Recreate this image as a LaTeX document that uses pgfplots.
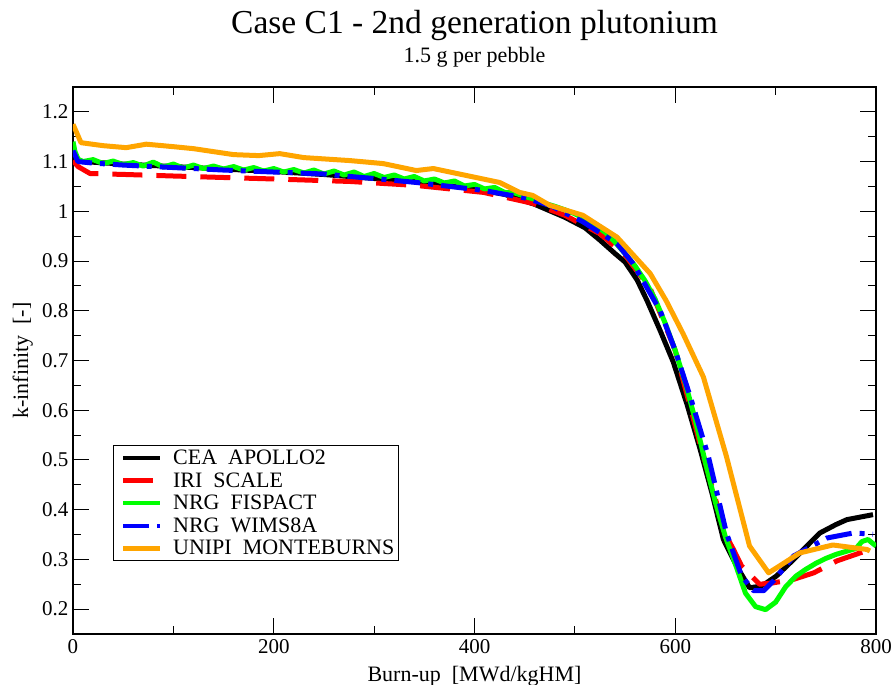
\documentclass[border=0pt]{standalone}
\usepackage{pgfplots}
\pgfplotsset{compat=1.18}
\usepackage{fontspec}
\setmainfont{Liberation Serif}
\definecolor{ggreen}{RGB}{0,255,0}
\definecolor{gorange}{RGB}{255,165,0}
\definecolor{gred}{RGB}{255,0,0}
\definecolor{gblue}{RGB}{0,0,255}
\begin{document}
\begin{tikzpicture}
\begin{axis}[
  scale only axis, width=803pt, height=547pt,
  xmin=0, xmax=800, ymin=0.15, ymax=1.25,
  xtick={0,200,400,600,800}, minor x tick num=1,
  ytick={0.2,0.3,0.4,0.5,0.6,0.7,0.8,0.9,1,1.1,1.2},
  yticklabels={0.2,0.3,0.4,0.5,0.6,0.7,0.8,0.9,1,1.1,1.2},
  minor y tick num=1,
  tick align=inside, major tick length=16pt, minor tick length=8pt,
  tick style={black, line width=1pt},
  axis line style={line width=1.2pt},
  ticklabel style={font=\fontsize{21}{21}\selectfont},
  /pgf/number format/assume math mode=true,
  xticklabel style={yshift=-2pt},
  yticklabel style={xshift=-1pt},
  xlabel={Burn-up\ \ [MWd/kgHM]},
  ylabel={k-infinity\ \ [-]},
  label style={font=\fontsize{22}{22}\selectfont},
  xlabel style={at={(axis description cs:0.5,0)}, anchor=base, yshift=-47pt},
  ylabel style={at={(axis description cs:-0.056,0.5)}, anchor=base, rotate=0},
  every axis plot/.append style={line width=5pt, line join=round},
  legend style={at={(axis cs:40,0.296)}, anchor=south west, draw=black, line width=1pt,
    font=\fontsize{22}{22}\selectfont, inner xsep=3pt, inner ysep=3pt, row sep=3.5pt,
    nodes={inner sep=1.5pt}},
  legend cell align=left,
  legend image code/.code={\draw[#1, line width=4.5pt] (0pt,0pt) -- (37pt,0pt); \path (-4pt,0pt) (46pt,0pt);},
  clip=true,
]
\coordinate (BL) at (rel axis cs:0,0);
\coordinate (TR) at (rel axis cs:1,1);
\coordinate (TC) at (rel axis cs:0.5,1);
% CEA APOLLO2
\addplot[black] coordinates {
(0,1.105) (10,1.100) (50,1.095) (100,1.090) (150,1.085) (200,1.080) (250,1.074)
(300,1.066) (350,1.058) (400,1.045) (430,1.034) (460,1.014) (490,0.988) (510,0.967)
(525,0.942) (540,0.915) (550,0.898) (562,0.862) (572,0.820) (585,0.760) (598,0.697)
(612,0.610) (625,0.520) (637,0.430) (648,0.340) (661,0.287) (674,0.243) (685,0.246)
(691,0.253) (701,0.267) (718,0.300) (744,0.353) (760,0.370) (771,0.380) (797,0.390)
};
\addlegendentry{CEA\ \ APOLLO2}
% IRI SCALE
\addplot[gred, dash pattern=on 30pt off 14pt] coordinates {
(0,1.102) (5,1.090) (17,1.076) (53,1.074) (100,1.071) (150,1.068) (200,1.065)
(276,1.060) (342,1.052) (409,1.038) (458,1.016) (490,0.992) (525,0.955) (550,0.912)
(575,0.845) (600,0.720) (625,0.530) (650,0.350) (658,0.320) (666,0.287) (684,0.250)
(698,0.253) (718,0.260) (738,0.273) (761,0.297) (784,0.313) (792,0.318)
};
\addlegendentry{IRI\ \ SCALE}
% NRG FISPACT
\addplot[ggreen] coordinates {
(0,1.140) (2,1.120) (5,1.105) (10,1.100) (20,1.104) (30,1.096) (40,1.101) (50,1.094)
(60,1.098) (70,1.091) (80,1.099) (90,1.089) (100,1.095) (110,1.087) (120,1.093)
(130,1.086) (140,1.091) (150,1.085) (160,1.090) (170,1.083) (180,1.088) (190,1.081)
(200,1.086) (210,1.079) (220,1.084) (230,1.077) (240,1.083) (250,1.075) (260,1.081)
(270,1.073) (280,1.079) (290,1.070) (300,1.076) (310,1.068) (320,1.073) (330,1.065)
(340,1.070) (350,1.061) (360,1.065) (370,1.057) (380,1.061) (390,1.051) (400,1.054)
(410,1.045) (420,1.048) (430,1.038) (440,1.037) (450,1.030) (460,1.024) (470,1.016)
(480,1.010) (490,1.003) (500,0.995) (510,0.985) (520,0.972) (530,0.958) (540,0.938)
(550,0.915) (560,0.890) (570,0.860) (580,0.823) (590,0.775) (600,0.720) (610,0.655)
(620,0.580) (630,0.495) (640,0.415) (650,0.345) (660,0.290) (670,0.232) (680,0.205)
(690,0.199) (700,0.214) (710,0.245) (720,0.266) (730,0.280) (740,0.292) (750,0.302)
(760,0.310) (770,0.316) (780,0.322) (786,0.336) (792,0.340) (800,0.327)
};
\addlegendentry{NRG\ \ FISPACT}
% NRG WIMS8A
\addplot[gblue, dash pattern=on 26pt off 8pt on 5pt off 8pt] coordinates {
(0,1.122) (5,1.100) (20,1.097) (50,1.093) (100,1.088) (150,1.083) (200,1.079)
(250,1.075) (276,1.070) (300,1.066) (342,1.058) (409,1.042) (450,1.027) (475,1.012)
(508,0.979) (542,0.935) (558,0.895) (575,0.835) (585,0.800) (600,0.720) (615,0.627)
(633,0.507) (651,0.353) (666,0.267) (678,0.237) (688,0.237) (698,0.257) (718,0.307)
(751,0.343) (777,0.353) (797,0.351)
};
\addlegendentry{NRG\ \ WIMS8A}
% UNIPI MONTEBURNS
\addplot[gorange] coordinates {
(0,1.175) (8,1.138) (30,1.132) (53,1.128) (73,1.135) (100,1.130) (120,1.126)
(160,1.114) (185,1.112) (206,1.116) (230,1.108) (253,1.105) (276,1.102) (309,1.096)
(342,1.082) (359,1.086) (392,1.072) (425,1.058) (445,1.038) (458,1.032) (475,1.012)
(508,0.992) (542,0.948) (575,0.875) (591,0.820) (608,0.753) (628,0.667) (651,0.507)
(674,0.327) (693,0.273) (704,0.287) (724,0.313) (757,0.329) (791,0.320) (794,0.317)
};
\addlegendentry{UNIPI\ \ MONTEBURNS}
\end{axis}
\node[anchor=base, font=\fontsize{33.5}{33.5}\selectfont] at ([yshift=53pt]TC) {Case C1 - 2nd generation plutonium};
\node[anchor=base, font=\fontsize{22}{22}\selectfont] at ([yshift=24pt]TC) {1.5 g per pebble};
\pgfresetboundingbox
\path ([shift={(-73pt,-50pt)}]BL) rectangle ([shift={(18pt,87pt)}]TR);
\end{tikzpicture}
\end{document}
